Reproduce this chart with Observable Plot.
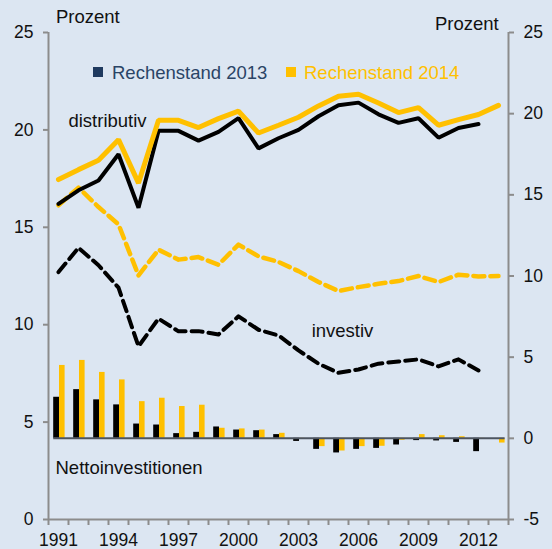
<!DOCTYPE html>
<html><head><meta charset="utf-8">
<script src="https://cdn.jsdelivr.net/npm/d3@7"></script>
<script src="https://cdn.jsdelivr.net/npm/@observablehq/plot@0.6"></script>
<style>
html,body{margin:0;padding:0;background:#dce6f2;}
#wrap{position:relative;width:552px;height:549px;background:#dce6f2;font-family:"Liberation Sans",Arial,sans-serif;overflow:hidden;}
#chart{position:absolute;left:0;top:0;}
.lbl{position:absolute;font-size:18.5px;line-height:1;white-space:nowrap;}
.sq{position:absolute;width:10px;height:10px;}
</style></head><body>
<div id="wrap">
  <div id="chart"></div>
  <div class="lbl" style="left:56px;top:8px;color:#111">Prozent</div>
  <div class="lbl" style="left:435px;top:15px;color:#111">Prozent</div>
  <div class="sq" style="left:93px;top:67px;background:#1f3a5f"></div>
  <div class="lbl" style="left:112px;top:64px;color:#2a4466">Rechenstand 2013</div>
  <div class="sq" style="left:286px;top:67px;background:#ffc000"></div>
  <div class="lbl" style="left:304px;top:64px;color:#ffc000">Rechenstand 2014</div>
</div>
<script>
const years = [1991,1992,1993,1994,1995,1996,1997,1998,1999,2000,2001,2002,2003,2004,2005,2006,2007,2008,2009,2010,2011,2012,2013];
const labelYears = [1991,1994,1997,2000,2003,2006,2009,2012];
const leftTicks = [0,5,10,15,20,25];
const rightTicks = [-5,0,5,10,15,20,25];

// left axis (Prozent) – lines
const distributiv2013 = [16.2,16.9,17.4,18.75,16.0,19.95,19.95,19.45,19.9,20.6,19.05,19.57,20.0,20.7,21.26,21.4,20.8,20.36,20.6,19.6,20.1,20.3];
const distributiv2014 = [17.45,17.96,18.44,19.5,17.27,20.49,20.49,20.12,20.58,20.96,19.84,20.24,20.65,21.23,21.73,21.83,21.38,20.89,21.14,20.24,20.53,20.79,21.26];
const investiv2013 = [12.7,13.95,13.05,11.9,8.89,10.31,9.66,9.67,9.5,10.43,9.74,9.45,8.68,8.0,7.53,7.7,8.0,8.11,8.22,7.86,8.22,7.65];
const investiv2014 = [16.13,17.04,16.04,15.15,12.53,13.85,13.34,13.47,13.08,14.11,13.51,13.22,12.75,12.19,11.73,11.93,12.1,12.24,12.5,12.19,12.57,12.48,12.5];
// right axis – Nettoinvestitionen bars
const netto2013 = [2.53,3.0,2.37,2.06,0.88,0.82,0.29,0.37,0.70,0.51,0.47,0.23,-0.19,-0.68,-0.9,-0.68,-0.62,-0.41,-0.14,-0.16,-0.25,-0.82];
const netto2014 = [4.49,4.8,4.06,3.6,2.26,2.47,1.96,2.04,0.62,0.58,0.51,0.31,-0.06,-0.51,-0.78,-0.51,-0.49,-0.12,0.23,0.16,0.1,-0.06,-0.29];

const toL = v => (v + 5) * 25 / 30;     // right-axis value -> left scale
const fromL = v => v * 30 / 25 - 5;
const series = arr => arr.map((v, i) => ({year: years[i], v}));
const first = years[0], last = years[years.length - 1];
const bounds = d3.range(first - 0.5, last + 1, 1);

const YELLOW = "#ffc000", GREY = "#8c8c8c";

const chart = Plot.plot({
  width: 552, height: 549,
  marginLeft: 48, marginRight: 44, marginTop: 32, marginBottom: 30,
  style: {background: "transparent", fontFamily: "'Liberation Sans', Arial, sans-serif", overflow: "visible"},
  x: {type: "linear", domain: [first - 0.5, last + 0.5]},
  y: {domain: [0, 25]},
  marks: [
    // bars (right scale)
    Plot.rectY(series(netto2013), {x1: d => d.year - 0.24, x2: d => d.year + 0.05, y1: () => toL(0), y2: d => toL(d.v), fill: "#000"}),
    Plot.rectY(series(netto2014), {x1: d => d.year + 0.05, x2: d => d.year + 0.33, y1: () => toL(0), y2: d => toL(d.v), fill: YELLOW}),
    Plot.ruleY([toL(0)], {x1: first - 0.24, x2: last + 0.33, stroke: "#4d5560", strokeWidth: 2}),
    // frame
    Plot.ruleY([0], {stroke: GREY, strokeWidth: 2}),
    Plot.ruleX([first - 0.5, last + 0.5], {y1: 0, y2: 25, stroke: GREY, strokeWidth: 2}),
    // axes
    Plot.axisY(leftTicks, {anchor: "left", tickSize: 5, tickPadding: 10, fontSize: 17.5, stroke: GREY, strokeWidth: 2, fill: "#111", label: null}),
    Plot.axisY(rightTicks.map(toL), {anchor: "right", tickSize: 5, tickPadding: 10, fontSize: 17.5, stroke: GREY, strokeWidth: 2, fill: "#111", label: null, tickFormat: d => String(Math.round(fromL(d)))}),
    Plot.axisX(bounds, {tickSize: 6, stroke: GREY, strokeWidth: 2, tickFormat: () => "", label: null}),
    Plot.axisX(labelYears, {tickSize: 0, tickPadding: 14, fontSize: 17.5, fill: "#111", tickFormat: d => String(d), label: null}),
    // lines
    Plot.line(series(investiv2013), {x: "year", y: "v", stroke: "#000", strokeWidth: 4, strokeDasharray: "11,6"}),
    Plot.line(series(investiv2014), {x: "year", y: "v", stroke: YELLOW, strokeWidth: 4.5, strokeDasharray: "11,6"}),
    Plot.line(series(distributiv2013), {x: "year", y: "v", stroke: "#000", strokeWidth: 4, strokeLinejoin: "miter"}),
    Plot.line(series(distributiv2014), {x: "year", y: "v", stroke: YELLOW, strokeWidth: 5, strokeLinejoin: "miter"}),
    // labels
    Plot.text([{t: "distributiv", x: 1993.45, y: 20.44}], {x: "x", y: "y", text: "t", fontSize: 18.5, fill: "#111"}),
    Plot.text([{t: "investiv", x: 2005.2, y: 9.66}], {x: "x", y: "y", text: "t", fontSize: 18.5, fill: "#111"}),
    Plot.text([{t: "Nettoinvestitionen", x: 1990.85, y: 2.62}], {x: "x", y: "y", text: "t", fontSize: 18.5, fill: "#111", textAnchor: "start"})
  ]
});
document.getElementById("chart").appendChild(chart);
</script>
</body></html>
